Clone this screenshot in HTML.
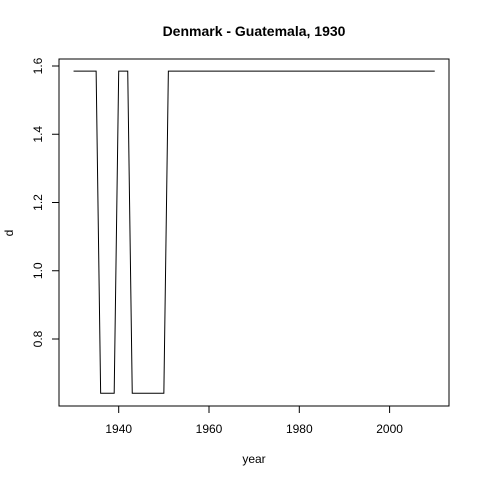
<!DOCTYPE html>
<html><head><meta charset="utf-8"><style>body{margin:0;background:#fff}svg{display:block}text{font-family:"Liberation Sans",sans-serif}</style></head>
<body>
<svg id="chart" width="480" height="480">
<text x="254" y="36" text-anchor="middle" font-size="14" font-weight="bold">Denmark - Guatemala, 1930</text>
<rect x="59" y="59" width="390" height="347" fill="none" stroke="#000"/>
<text x="254" y="463" text-anchor="middle" font-size="12">year</text>
<text x="13" y="233" text-anchor="middle" font-size="12" transform="rotate(-90 13 233)">d</text>
<g id="axes"></g>
<path id="line" fill="none" stroke="#000" stroke-width="1"/>
</svg>
<script>
const years=[1930,1935,1936,1939,1940,1942,1943,1950,1951,2010];
const values=[1.585,1.585,0.641,0.641,1.585,1.585,0.641,0.641,1.585,1.585];
const xTicks=[1940,1960,1980,2000];
const yTicks=[0.8,1.0,1.2,1.4,1.6];
const yLabels=["0.8","1.0","1.2","1.4","1.6"];
function sx(v){return 118.7+(v-1940)*(209-118.7)/20;}
function sy(v){return 339-(v-0.8)*(339-66)/0.8;}
const ns="http://www.w3.org/2000/svg",g=document.getElementById('axes');
xTicks.forEach(t=>{
 const l=document.createElementNS(ns,'line');
 l.setAttribute('x1',sx(t));l.setAttribute('x2',sx(t));l.setAttribute('y1',406);l.setAttribute('y2',413);l.setAttribute('stroke','#000');
 
 
 g.appendChild(l);
 const tx=document.createElementNS(ns,'text');
 tx.setAttribute('x',sx(t));tx.setAttribute('y',433);tx.setAttribute('text-anchor','middle');tx.setAttribute('font-size','12');tx.textContent=t;
 
 
 g.appendChild(tx);
});
yTicks.forEach((t,i)=>{
 const l=document.createElementNS(ns,'line');
 l.setAttribute('x1',52);l.setAttribute('x2',59);l.setAttribute('y1',sy(t));l.setAttribute('y2',sy(t));l.setAttribute('stroke','#000');
 
 
 g.appendChild(l);
 const tx=document.createElementNS(ns,'text');
 const x=42,y=sy(t);
 tx.setAttribute('x',x);tx.setAttribute('y',y);tx.setAttribute('text-anchor','middle');tx.setAttribute('font-size','12');
 tx.setAttribute('transform','rotate(-90 '+x+' '+y+')');tx.textContent=yLabels[i];
 
 
 g.appendChild(tx);
});
document.getElementById('line').setAttribute('d',years.map((y,i)=>(i?'L':'M')+sx(y)+','+sy(values[i])).join(' '));
</script>
</body></html>
